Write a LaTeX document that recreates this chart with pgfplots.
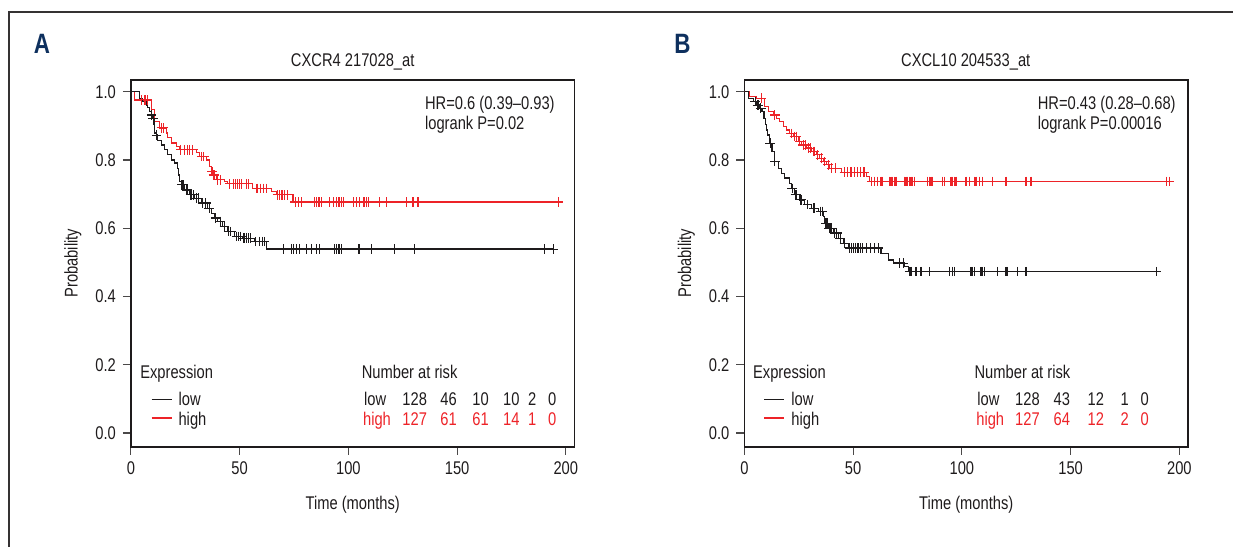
\documentclass[border=0pt]{standalone}
\usepackage{fontspec}
\setmainfont{Liberation Sans}[FakeStretch=0.80]
\usepackage{pgfplots}
\pgfplotsset{compat=1.18}

\definecolor{kmred}{RGB}{237,35,40}
\definecolor{navy}{RGB}{14,48,94}
\definecolor{txt}{RGB}{30,27,28}
\newcommand{\fsz}{\fontsize{9.2}{11}\selectfont}

\pgfplotsset{
  km/.style={
    scale only axis, width=222pt, height=183.5pt,
    xmin=0, xmax=204, ymin=-0.040, ymax=1.0346,
    xtick={0,50,100,150,200}, xticklabels={0,50,100,150,200},
    ytick={0,0.2,0.4,0.6,0.8,1}, yticklabels={0.0,0.2,0.4,0.6,0.8,1.0},
    tick align=outside, tick pos=left, major tick length=4pt,
    axis line style={line width=0.9pt, txt},
    tick style={line width=0.6pt, txt!80},
    tick label style={font=\fsz, text=txt},
    label style={font=\fsz, text=txt},
    xlabel={Time (months)}, ylabel={Probability},
    x label style={at={(axis description cs:0.5,-0.158)}, anchor=center},
    y label style={at={(axis description cs:-0.131,0.5)}, anchor=center},
  },
  lowline/.style={const plot, txt, line width=0.6pt},
  highline/.style={const plot, kmred, line width=0.6pt},
  lowcens/.style={only marks, mark=+, mark size=2.4pt, mark options={txt, line width=0.55pt}},
  highcens/.style={only marks, mark=+, mark size=2.4pt, mark options={kmred, line width=0.55pt}},
}

\begin{document}
\begin{tikzpicture}[font=\fsz]
\path (0pt,0pt) rectangle (617pt,273.5pt);

% ---------------- panel A
\begin{axis}[km, at={(65.5pt,50pt)}, anchor=south west]
\addplot[highline] coordinates {
(0,1.0) (1.5,0.976) (9.3,0.947) (10.9,0.912) (13.2,0.894) (16.2,0.879) (17,0.865)
(18.5,0.850) (20.8,0.839) (22.4,0.830) (30,0.821) (31.6,0.810) (34.6,0.800)
(36.2,0.781) (36.9,0.766) (37.7,0.756) (39.2,0.742) (43.1,0.737) (44.6,0.730)
(56,0.717) (64.5,0.707) (66.8,0.698) (74.5,0.677) (196.5,0.677)};
\addplot[lowline] coordinates {
(0,1.0) (4.0,0.981) (5.5,0.971) (7.0,0.961) (7.8,0.953) (8.6,0.942) (9.3,0.932)
(10.1,0.922) (10.6,0.903) (10.9,0.879) (11.6,0.873) (12.4,0.858) (13.9,0.844)
(15.5,0.830) (17.0,0.815) (18.5,0.800) (20.1,0.791) (21.3,0.776) (21.9,0.756)
(22.5,0.737) (23.1,0.727) (24.7,0.712) (27.0,0.698) (29.3,0.688) (32.3,0.674)
(35.4,0.659) (36.9,0.644) (38.5,0.630) (40.0,0.620) (42.3,0.605) (44.6,0.590)
(47.7,0.576) (51.5,0.571) (56.9,0.561) (62.2,0.539) (194.2,0.539)};
\addplot[highcens] coordinates {
(5,0.976) (6.5,0.976) (7.7,0.976) (14,0.894) (15,0.894) (23,0.830) (24.5,0.830)
(26,0.830) (27,0.830) (28.5,0.830) (32.5,0.810) (33.5,0.810) (37.3,0.766)
(38,0.756) (38.5,0.756) (40,0.742) (41,0.742) (45.5,0.730) (47,0.730) (48,0.730)
(49,0.730) (50,0.730) (51,0.730) (53,0.730) (54,0.730) (58,0.717) (59.5,0.717)
(61,0.717) (62.5,0.717) (67.5,0.698) (68.5,0.698) (69.5,0.698) (70.5,0.698)
(72,0.698) (75.5,0.677) (77,0.677) (78.5,0.677) (84.6,0.677) (85.4,0.677)
(86.1,0.677) (86.9,0.677) (87.6,0.677) (91.5,0.677) (93,0.677) (94.6,0.677)
(95.3,0.677) (96.1,0.677) (96.9,0.677) (97.6,0.677) (102.2,0.677) (103.8,0.677)
(105.3,0.677) (106.9,0.677) (107.6,0.677) (108.4,0.677) (109.1,0.677)
(114.5,0.677) (117.5,0.677) (126.7,0.677) (129.7,0.677) (132,0.677) (196.5,0.677)};
\addplot[lowcens] coordinates {
(9.5,0.932) (10.3,0.922) (11.8,0.873) (23.5,0.727) (24,0.727) (25.5,0.712)
(26,0.712) (27.5,0.698) (28,0.698) (28.8,0.698) (30,0.688) (31,0.688) (33,0.674)
(34.5,0.674) (36,0.659) (39,0.630) (41,0.620) (43,0.605) (45,0.590) (46,0.590)
(48.5,0.576) (49.5,0.576) (50.5,0.576) (52,0.571) (53,0.571) (54,0.571)
(55,0.571) (57.5,0.561) (59,0.561) (60.5,0.561) (61.5,0.561) (70,0.539)
(73.9,0.539) (74.6,0.539) (76.2,0.539) (77.7,0.539) (80.8,0.539) (83.1,0.539)
(85.4,0.539) (86.9,0.539) (93.8,0.539) (94.6,0.539) (95.3,0.539) (96.1,0.539)
(96.9,0.539) (104.5,0.539) (105.3,0.539) (110.7,0.539) (121.1,0.539)
(130.3,0.539) (190,0.539) (194.2,0.539)};
\end{axis}

% ---------------- panel B
\begin{axis}[km, at={(372.5pt,50pt)}, anchor=south west]
\addplot[highline] coordinates {
(0,1.0) (2.4,0.986) (5.5,0.981) (9.3,0.956) (10.9,0.942) (13.2,0.932) (14.7,0.922)
(16.2,0.912) (17.8,0.898) (19.3,0.888) (20.8,0.878) (22.4,0.869) (24.7,0.854)
(26.2,0.844) (28.5,0.835) (30.8,0.825) (33.1,0.815) (34.6,0.805) (36.2,0.795)
(37.7,0.786) (39.2,0.776) (44.6,0.764) (56.1,0.751) (57.6,0.737) (195.4,0.737)};
\addplot[lowline] coordinates {
(0,1.0) (1.7,0.981) (4.0,0.971) (5.5,0.961) (7.0,0.952) (8.1,0.942) (9.0,0.922)
(9.7,0.903) (10.1,0.888) (10.6,0.873) (11.6,0.849) (12.7,0.825) (13.9,0.795)
(15.5,0.776) (17.0,0.761) (18.5,0.747) (20.8,0.732) (21.6,0.717) (23.1,0.698)
(25.4,0.683) (27.7,0.669) (30.8,0.659) (33.9,0.649) (36.2,0.634) (36.9,0.615)
(38.5,0.600) (40.8,0.586) (43.1,0.571) (45.4,0.556) (47.7,0.542) (62.8,0.525)
(66.1,0.507) (68.4,0.498) (73.7,0.488) (75.3,0.473) (190,0.473)};
\addplot[highcens] coordinates {
(7.7,0.981) (14,0.932) (21.5,0.878) (23,0.869) (24,0.869) (25.5,0.854) (27,0.844)
(28,0.844) (29.5,0.835) (30.2,0.835) (32,0.825) (33.8,0.815) (35.3,0.805)
(37,0.795) (38.5,0.786) (40,0.776) (42,0.776) (46,0.764) (47.5,0.764) (49,0.764)
(50.5,0.764) (52,0.764) (53.5,0.764) (55,0.764) (58.5,0.737) (60,0.737)
(61.3,0.737) (62.8,0.737) (63.6,0.737) (66.7,0.737) (67.4,0.737) (68.2,0.737)
(69,0.737) (69.7,0.737) (73.6,0.737) (74.3,0.737) (75.1,0.737) (75.9,0.737)
(76.6,0.737) (77.4,0.737) (78.2,0.737) (84.3,0.737) (85.1,0.737) (85.8,0.737)
(86.6,0.737) (91.2,0.737) (92,0.737) (95,0.737) (95.8,0.737) (96.6,0.737)
(97.3,0.737) (101.9,0.737) (103.4,0.737) (105.7,0.737) (106.5,0.737) (108,0.737)
(109.5,0.737) (114.1,0.737) (120.3,0.737) (129.5,0.737) (131.8,0.737)
(193.9,0.737) (195.4,0.737)};
\addplot[lowcens] coordinates {
(5,0.971) (6,0.961) (6.5,0.961) (7.5,0.952) (11.9,0.849) (14,0.795) (22,0.717)
(23.5,0.698) (24,0.698) (26,0.683) (29,0.669) (32,0.659) (35,0.649) (35.8,0.649)
(37.5,0.615) (38,0.615) (39,0.600) (39.8,0.600) (41.5,0.586) (42.5,0.586)
(44,0.571) (46,0.556) (48.3,0.542) (49.3,0.542) (50,0.542) (51,0.542) (51.8,0.542)
(52.5,0.542) (53.3,0.542) (54.5,0.542) (56,0.542) (58,0.542) (60,0.542)
(61.5,0.542) (71.5,0.498) (73,0.498) (76,0.473) (76.6,0.473) (78.9,0.473)
(81.2,0.473) (85.1,0.473) (94.3,0.473) (95.8,0.473) (96.6,0.473) (104.2,0.473)
(105,0.473) (105.7,0.473) (108.8,0.473) (109.5,0.473) (110.3,0.473) (116.5,0.473)
(120.3,0.473) (121.1,0.473) (125.7,0.473) (129.5,0.473) (189.3,0.473)};
\end{axis}

% ---------------- annotations in pixel units
\begin{scope}[x=0.5pt, y=-0.5pt, shift={(0pt,273.5pt)}, text=txt, every node/.style={inner sep=0pt}]
\draw[line width=1pt, txt!90] (8.7,547) -- (8.7,12.5) -- (1234,12.5);
\node[font=\fontsize{14}{16}\selectfont\bfseries, text=navy] at (42,44) {A};
\node[font=\fontsize{14}{16}\selectfont\bfseries, text=navy] at (683,44) {B};
\node at (353,62) {CXCR4 217028\_at};
\node at (966.5,62) {CXCL10 204533\_at};

% A
\node[anchor=base west] at (425,110) {HR=0.6 (0.39--0.93)};
\node[anchor=base west] at (425,130) {logrank P=0.02};
\node[anchor=base west] at (140,379) {Expression};
\draw[txt, line width=0.6pt] (151.7,400) -- (171.7,400);
\draw[kmred, line width=0.6pt] (151.7,418.3) -- (171.7,418.3);
\node[anchor=base west] at (178.3,405.5) {low};
\node[anchor=base west] at (178.3,426) {high};
\node[anchor=base west] at (361.7,379) {Number at risk};
\node[anchor=base west] at (364,405.5) {low};
\node[anchor=base west, text=kmred] at (363,426) {high};
\foreach \xx/\lo/\hi in {415/128/127, 449/46/61, 481/10/61, 511.7/10/14, 532.7/2/1, 552.7/0/0}{
  \node[anchor=base] at (\xx,405.5) {\lo};
  \node[anchor=base, text=kmred] at (\xx,426) {\hi};
}

% B
\node[anchor=base west] at (1038.3,110) {HR=0.43 (0.28--0.68)};
\node[anchor=base west] at (1038.3,130) {logrank P=0.00016};
\node[anchor=base west] at (753.3,379) {Expression};
\draw[txt, line width=0.6pt] (765,400) -- (785,400);
\draw[kmred, line width=0.6pt] (765,418.3) -- (785,418.3);
\node[anchor=base west] at (791.7,405.5) {low};
\node[anchor=base west] at (791.7,426) {high};
\node[anchor=base west] at (975,379) {Number at risk};
\node[anchor=base west] at (977.7,405.5) {low};
\node[anchor=base west, text=kmred] at (976.7,426) {high};
\foreach \xx/\lo/\hi in {1028.3/128/127, 1062.7/43/64, 1096.7/12/12, 1125.7/1/2, 1145.7/0/0}{
  \node[anchor=base] at (\xx,405.5) {\lo};
  \node[anchor=base, text=kmred] at (\xx,426) {\hi};
}
\end{scope}
\end{tikzpicture}
\end{document}
